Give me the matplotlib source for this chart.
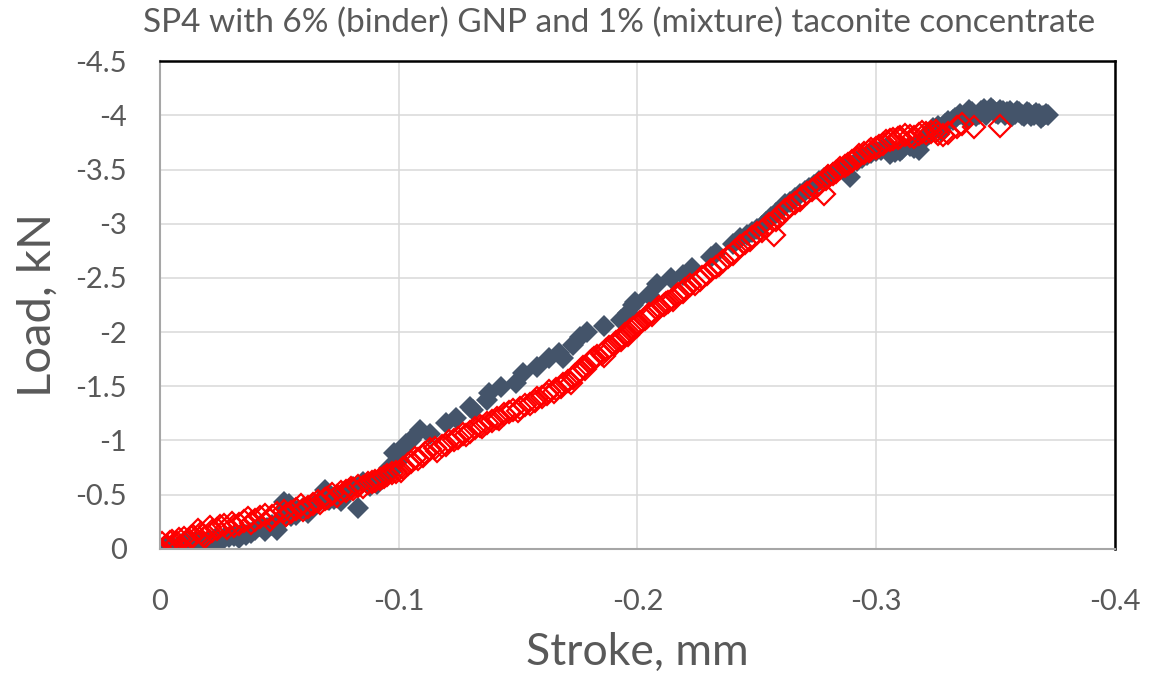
import matplotlib
matplotlib.use('Agg')
from matplotlib import pyplot as plt

# sample 1 (dark filled diamonds), stroke in mm and load in kN
gray_stroke = [0, -0.003, -0.006, -0.009, -0.012, -0.015, -0.018, -0.021, -0.024, -0.027,
               -0.031, -0.034, -0.038, -0.042, -0.045, -0.049, -0.050, -0.052, -0.053, -0.055,
               -0.058, -0.062, -0.065, -0.069, -0.071, -0.074, -0.076, -0.079, -0.083, -0.085,
               -0.088, -0.091, -0.094, -0.096, -0.098, -0.100, -0.102, -0.103, -0.105, -0.109,
               -0.113, -0.120, -0.124, -0.130, -0.131, -0.137, -0.138, -0.143, -0.149, -0.152,
               -0.158, -0.163, -0.167, -0.169, -0.173, -0.176, -0.179, -0.186, -0.193, -0.196,
               -0.198, -0.199, -0.205, -0.208, -0.214, -0.219, -0.223, -0.231, -0.233, -0.240,
               -0.243, -0.246, -0.250, -0.254, -0.258, -0.262, -0.266, -0.270, -0.274, -0.278,
               -0.282, -0.286, -0.289, -0.292, -0.296, -0.300, -0.304, -0.308, -0.311, -0.314,
               -0.318, -0.320, -0.324, -0.327, -0.330, -0.333, -0.335, -0.338, -0.340, -0.342,
               -0.344, -0.346, -0.348, -0.350, -0.352, -0.355, -0.357, -0.359, -0.361, -0.363,
               -0.365, -0.367, -0.369, -0.371, -0.372]
gray_load = [0, -0.02, -0.01, -0.04, -0.03, -0.06, -0.05, -0.08, -0.07, -0.10,
             -0.12, -0.14, -0.15, -0.21, -0.19, -0.17, -0.24, -0.43, -0.38, -0.30,
             -0.36, -0.33, -0.40, -0.54, -0.45, -0.50, -0.44, -0.55, -0.38, -0.62,
             -0.58, -0.60, -0.68, -0.75, -0.88, -0.82, -0.93, -0.97, -1.00, -1.10,
             -1.06, -1.16, -1.21, -1.31, -1.28, -1.37, -1.44, -1.49, -1.53, -1.62,
             -1.68, -1.76, -1.81, -1.76, -1.88, -1.95, -2.00, -2.06, -2.11, -2.18,
             -2.25, -2.28, -2.34, -2.44, -2.50, -2.53, -2.59, -2.69, -2.73, -2.81,
             -2.87, -2.90, -2.95, -3.02, -3.10, -3.18, -3.24, -3.30, -3.36, -3.42,
             -3.47, -3.52, -3.43, -3.58, -3.63, -3.67, -3.70, -3.66, -3.69, -3.72,
             -3.68, -3.78, -3.88, -3.86, -3.95, -3.98, -4.01, -3.97, -4.03, -3.99,
             -4.04, -4.00, -4.07, -4.02, -4.05, -4.03, -3.99, -4.04, -4.00, -4.03,
             -3.99, -4.02, -3.98, -4.01, -4.00]
# more readings of sample 1 (the thick parts of the band)
gray_stroke_b = [-0.002, -0.005, -0.008, -0.011, -0.014, -0.017, -0.020, -0.023, -0.026, -0.029,
                 -0.033, -0.036, -0.040, -0.044, -0.047, -0.051, -0.054, -0.057, -0.060, -0.063,
                 -0.067, -0.070, -0.073, -0.077, -0.081, -0.087, -0.090, -0.093, -0.097, -0.099,
                 -0.101, -0.248, -0.252, -0.256, -0.260, -0.264, -0.268, -0.272, -0.276,
                 -0.280, -0.284, -0.288, -0.294, -0.298, -0.302, -0.306, -0.310, -0.316, -0.322,
                 -0.326, -0.329, -0.332, -0.337, -0.339, -0.343, -0.345, -0.347, -0.349, -0.351,
                 -0.353, -0.354, -0.356, -0.358, -0.360, -0.362, -0.364, -0.366, -0.368, -0.370]
gray_load_b = [-0.01, -0.03, -0.02, -0.05, -0.04, -0.07, -0.06, -0.09, -0.08, -0.11,
               -0.10, -0.13, -0.17, -0.16, -0.22, -0.27, -0.41, -0.31, -0.38, -0.36,
               -0.44, -0.49, -0.46, -0.52, -0.57, -0.60, -0.63, -0.64, -0.72, -0.79,
               -0.90, -2.92, -2.98, -3.06, -3.14, -3.20, -3.27, -3.33, -3.39,
               -3.45, -3.50, -3.55, -3.61, -3.65, -3.68, -3.64, -3.67, -3.70, -3.83,
               -3.90, -3.92, -3.96, -4.00, -4.05, -4.01, -4.06, -4.03, -4.05, -4.01,
               -4.04, -4.00, -4.04, -4.01, -4.03, -3.99, -4.02, -4.00, -4.01, -3.99]

# sample 2 (red open diamonds)
red_stroke = [0, -0.001, -0.003, -0.005, -0.007, -0.010, -0.012, -0.014, -0.016, -0.018,
              -0.021, -0.024, -0.027, -0.030, -0.033, -0.037, -0.040, -0.044, -0.047, -0.052,
              -0.055, -0.059, -0.062, -0.066, -0.069, -0.072, -0.076, -0.080, -0.083, -0.087,
              -0.090, -0.094, -0.097, -0.101, -0.104, -0.107, -0.110, -0.113, -0.116, -0.120,
              -0.123, -0.127, -0.130, -0.134, -0.137, -0.141, -0.144, -0.148, -0.151, -0.155,
              -0.158, -0.162, -0.165, -0.168, -0.171, -0.173, -0.175, -0.177, -0.180, -0.182,
              -0.185, -0.187, -0.190, -0.193, -0.195, -0.197, -0.200, -0.203, -0.205, -0.208,
              -0.211, -0.213, -0.216, -0.219, -0.222, -0.226, -0.229, -0.233, -0.236, -0.240,
              -0.243, -0.247, -0.250, -0.254, -0.257, -0.258, -0.261, -0.264, -0.268, -0.271,
              -0.275, -0.278, -0.279, -0.282, -0.285, -0.288, -0.292, -0.295, -0.298, -0.301,
              -0.304, -0.307, -0.310, -0.314, -0.318, -0.321, -0.323, -0.326, -0.330, -0.334,
              -0.336, -0.341, -0.352]
red_load = [0, -0.05, -0.03, -0.07, -0.05, -0.10, -0.08, -0.12, -0.17, -0.13,
            -0.20, -0.18, -0.22, -0.24, -0.23, -0.28, -0.27, -0.31, -0.30, -0.35,
            -0.34, -0.40, -0.39, -0.44, -0.46, -0.51, -0.52, -0.56, -0.58, -0.61,
            -0.63, -0.66, -0.70, -0.72, -0.78, -0.84, -0.86, -0.92, -0.90, -0.96,
            -1.00, -1.06, -1.08, -1.13, -1.16, -1.21, -1.24, -1.28, -1.30, -1.34,
            -1.39, -1.43, -1.45, -1.49, -1.55, -1.58, -1.62, -1.68, -1.72, -1.76,
            -1.80, -1.83, -1.88, -1.93, -1.98, -2.02, -2.06, -2.12, -2.17, -2.21,
            -2.25, -2.28, -2.33, -2.37, -2.43, -2.48, -2.54, -2.60, -2.66, -2.72,
            -2.79, -2.85, -2.91, -2.97, -2.90, -3.03, -3.10, -3.16, -3.22, -3.28,
            -3.34, -3.27, -3.41, -3.46, -3.51, -3.55, -3.61, -3.65, -3.69, -3.72,
            -3.76, -3.78, -3.80, -3.81, -3.83, -3.84, -3.85, -3.83, -3.84, -3.89,
            -3.92, -3.89, -3.90]
# more readings of sample 2
red_stroke_b = [-0.002, -0.004, -0.008, -0.011, -0.013, -0.017, -0.019, -0.022, -0.025, -0.028,
                -0.031, -0.035, -0.038, -0.042, -0.046, -0.049, -0.053, -0.057, -0.060, -0.064,
                -0.067, -0.070, -0.074, -0.078, -0.081, -0.085, -0.089, -0.092, -0.095, -0.099,
                -0.102, -0.105, -0.108, -0.111, -0.115, -0.118, -0.121, -0.125, -0.128, -0.132,
                -0.135, -0.139, -0.142, -0.146, -0.150, -0.153, -0.157, -0.160, -0.163, -0.166,
                -0.169, -0.172, -0.174, -0.176, -0.178, -0.181, -0.183, -0.186, -0.188, -0.191,
                -0.194, -0.196, -0.198, -0.201, -0.204, -0.206, -0.209, -0.212, -0.215, -0.217,
                -0.220, -0.224, -0.227, -0.231, -0.234, -0.238, -0.241, -0.245, -0.248, -0.252,
                -0.255, -0.259, -0.262, -0.266, -0.269, -0.273, -0.276, -0.280, -0.283, -0.287,
                -0.290, -0.293, -0.297, -0.300, -0.303, -0.306, -0.309, -0.312, -0.316, -0.319,
                -0.325, -0.328]
red_load_b = [-0.02, -0.06, -0.09, -0.06, -0.11, -0.15, -0.11, -0.16, -0.21, -0.19,
              -0.21, -0.26, -0.24, -0.29, -0.27, -0.33, -0.31, -0.37, -0.36, -0.41,
              -0.42, -0.47, -0.49, -0.53, -0.55, -0.57, -0.62, -0.64, -0.68, -0.71,
              -0.75, -0.80, -0.83, -0.88, -0.93, -0.95, -0.99, -1.02, -1.05, -1.11,
              -1.12, -1.18, -1.20, -1.26, -1.27, -1.33, -1.36, -1.40, -1.46, -1.47,
              -1.52, -1.53, -1.60, -1.64, -1.66, -1.74, -1.78, -1.78, -1.86, -1.91,
              -1.95, -1.97, -2.04, -2.09, -2.14, -2.16, -2.23, -2.27, -2.30, -2.35,
              -2.40, -2.44, -2.51, -2.57, -2.62, -2.69, -2.75, -2.82, -2.88, -2.93,
              -3.00, -3.06, -3.13, -3.19, -3.25, -3.31, -3.37, -3.44, -3.48, -3.53,
              -3.58, -3.63, -3.67, -3.70, -3.74, -3.77, -3.79, -3.82, -3.80, -3.85,
              -3.86, -3.82]

x_ticks = [0, -0.1, -0.2, -0.3, -0.4]
y_ticks = [0, -0.5, -1, -1.5, -2, -2.5, -3, -3.5, -4, -4.5]

txt = '#595959'
plt.rcParams['font.family'] = ['Lato', 'DejaVu Sans']

fig = plt.figure(figsize=(11.71, 6.8), dpi=100)
ax = fig.add_axes([0.1366, 0.193, 0.8155, 0.717])

ax.plot(gray_stroke + gray_stroke_b, gray_load + gray_load_b, 'D', ls='none',
        color='#44546A', ms=11, mew=0)
ax.plot(red_stroke + red_stroke_b, red_load + red_load_b, 'D', ls='none',
        mfc='none', mec='#FF0000', ms=11.5, mew=1.6)

# both axes run "backwards": 0 at the origin, negatives outward
ax.set_xlim(0, -0.4)
ax.set_ylim(0, -4.5)
ax.set_xticks(x_ticks)
ax.set_yticks(y_ticks)
ax.set_xticklabels([f'{v:g}' for v in x_ticks])
ax.set_yticklabels([f'{v:g}' for v in y_ticks])
ax.tick_params(length=0, labelsize=21, labelcolor=txt)
ax.tick_params(axis='x', pad=29)
ax.tick_params(axis='y', pad=24)

ax.grid(True, color='#D9D9D9', lw=1.1)
ax.set_axisbelow(True)
for side in ['top', 'right']:
    ax.spines[side].set_color('black')
    ax.spines[side].set_linewidth(1.8)
for side in ['left', 'bottom']:
    ax.spines[side].set_color('#A6A6A6')
    ax.spines[side].set_linewidth(1.5)

ax.set_xlabel('Stroke, mm', fontsize=32, color=txt, labelpad=12)
ax.set_ylabel('Load, kN', fontsize=34, color=txt, labelpad=12)
# chart title is centred on the whole chart, not on the plot box
fig.text(0.529, 0.966, 'SP4 with 6% (binder) GNP and 1% (mixture) taconite concentrate',
         fontsize=24, color=txt, ha='center', va='center')

fig.savefig('out.png', dpi=100)
